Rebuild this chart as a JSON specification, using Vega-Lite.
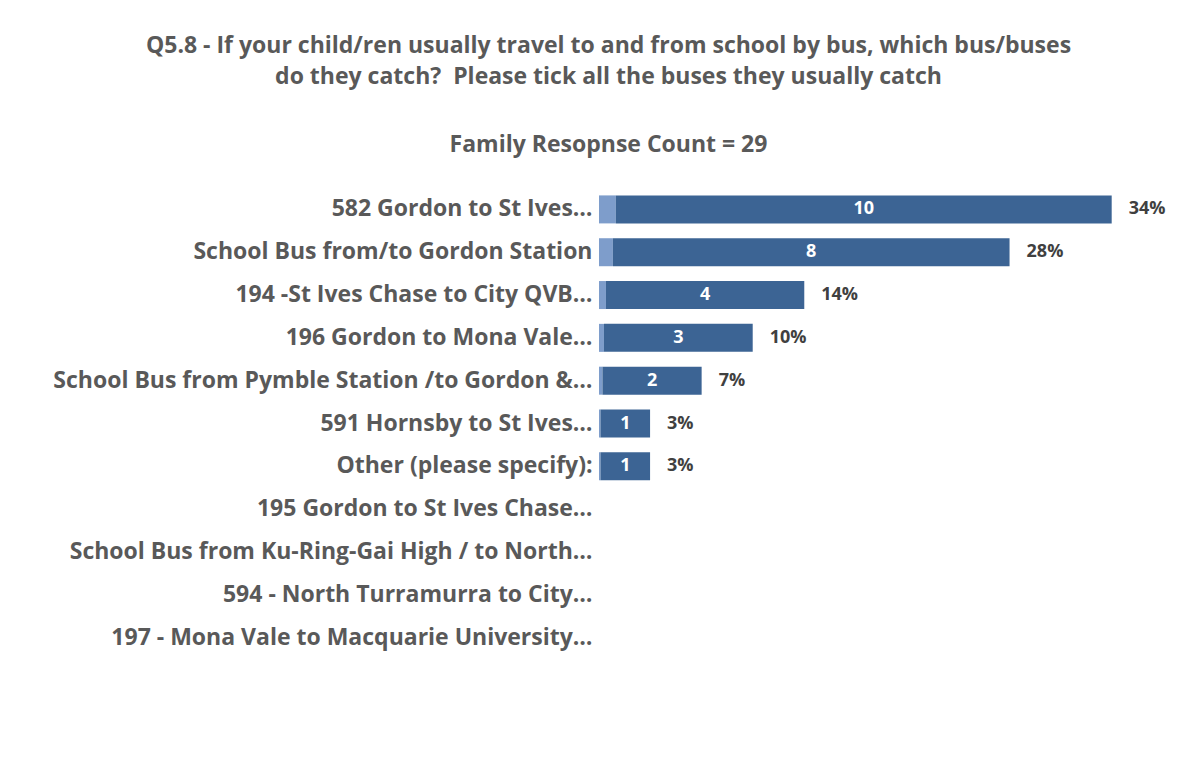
{
  "$schema": "https://vega.github.io/schema/vega-lite/v6.json",
  "autosize": "none",
  "width": 595,
  "height": 471,
  "padding": {"left": 599, "top": 188, "right": 9, "bottom": 107},
  "background": "white",
  "config": {"view": {"stroke": null}, "font": "Open Sans"},
  "title": {
    "text": ["Q5.8 - If your child/ren usually travel to and from school by bus, which bus/buses", "do they catch?\u00a0 Please tick all the buses they usually catch"],
    "subtitle": "Family Resopnse Count = 29",
    "anchor": "middle",
    "frame": "group",
    "dx": -288,
    "font": "Open Sans",
    "fontSize": 23,
    "fontWeight": "bold",
    "color": "#595959",
    "lineHeight": 31,
    "subtitleFont": "Open Sans",
    "subtitleFontSize": 23,
    "subtitleFontWeight": "bold",
    "subtitleColor": "#595959",
    "subtitlePadding": 45,
    "offset": 31
  },
  "data": {
    "values": [
      {"label": "582 Gordon to St Ives…", "count": 10, "share": 0.34},
      {"label": "School Bus from/to Gordon Station", "count": 8, "share": 0.28},
      {"label": "194 -St Ives Chase to City QVB…", "count": 4, "share": 0.14},
      {"label": "196 Gordon to Mona Vale…", "count": 3, "share": 0.10},
      {"label": "School Bus from Pymble Station /to Gordon &…", "count": 2, "share": 0.07},
      {"label": "591 Hornsby to St Ives…", "count": 1, "share": 0.03},
      {"label": "Other (please specify):", "count": 1, "share": 0.03},
      {"label": "195 Gordon to St Ives Chase…", "count": 0, "share": 0},
      {"label": "School Bus from Ku-Ring-Gai High / to North…", "count": 0, "share": 0},
      {"label": "594 - North Turramurra to City…", "count": 0, "share": 0},
      {"label": "197 - Mona Vale to Macquarie University…", "count": 0, "share": 0}
    ]
  },
  "transform": [
    {"fold": ["share", "count"], "as": ["series", "value"]},
    {"stack": "value", "groupby": ["label"], "sort": [{"field": "series", "order": "descending"}], "as": ["v0", "v1"]}
  ],
  "encoding": {
    "y": {
      "field": "label",
      "type": "nominal",
      "sort": null,
      "title": null,
      "scale": {"paddingInner": 0.346, "paddingOuter": 0.173},
      "axis": {
        "domain": false,
        "ticks": false,
        "labelPadding": 7,
        "labelLimit": 600,
        "labelFont": "Open Sans",
        "labelFontSize": 23,
        "labelFontWeight": "bold",
        "labelColor": "#595959"
      }
    }
  },
  "layer": [
    {
      "mark": {"type": "bar"},
      "encoding": {
        "x": {"field": "v0", "type": "quantitative", "scale": {"domain": [0, 12]}, "axis": null},
        "x2": {"field": "v1"},
        "color": {
          "field": "series",
          "type": "nominal",
          "scale": {"domain": ["share", "count"], "range": ["#7E9DCB", "#3C6494"]},
          "legend": null
        }
      }
    },
    {
      "transform": [
        {"filter": "datum.series == 'count' && datum.value > 0"},
        {"calculate": "(datum.v0 + datum.v1) / 2", "as": "mid"}
      ],
      "mark": {"type": "text", "font": "Open Sans", "fontSize": 18, "fontWeight": "bold", "color": "white", "baseline": "middle", "align": "center"},
      "encoding": {
        "x": {"field": "mid", "type": "quantitative"},
        "text": {"field": "value", "type": "quantitative"}
      }
    },
    {
      "transform": [
        {"filter": "datum.series == 'count' && datum.value > 0"},
        {"lookup": "label", "from": {"data": {"values": [
          {"label": "582 Gordon to St Ives…", "pct": 0.34},
          {"label": "School Bus from/to Gordon Station", "pct": 0.28},
          {"label": "194 -St Ives Chase to City QVB…", "pct": 0.14},
          {"label": "196 Gordon to Mona Vale…", "pct": 0.10},
          {"label": "School Bus from Pymble Station /to Gordon &…", "pct": 0.07},
          {"label": "591 Hornsby to St Ives…", "pct": 0.03},
          {"label": "Other (please specify):", "pct": 0.03}
        ]}, "key": "label", "fields": ["pct"]}}
      ],
      "mark": {"type": "text", "font": "Open Sans", "fontSize": 18, "fontWeight": "bold", "color": "#404040", "baseline": "middle", "align": "left", "dx": 17},
      "encoding": {
        "x": {"field": "v1", "type": "quantitative"},
        "text": {"field": "pct", "type": "quantitative", "format": ".0%"}
      }
    }
  ]
}
